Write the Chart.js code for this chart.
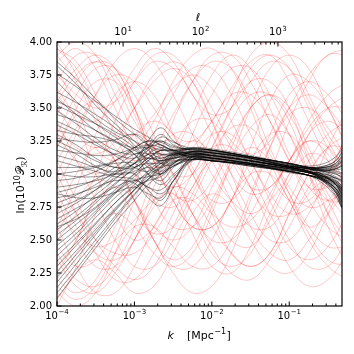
<!DOCTYPE html>
<html>
<head>
<meta charset="utf-8">
<script src="https://cdn.jsdelivr.net/npm/chart.js@4.4.1/dist/chart.umd.min.js"></script>
<style>
    html, body { margin: 0; padding: 0; background: #fff; }
</style>
</head>
<body>
<canvas id="chart" width="354" height="354"></canvas>
<script>
const kBlack = [1e-4, 1.78e-4, 3.16e-4, 5.62e-4, 1e-3, 1.5e-3, 2.2e-3, 3.2e-3, 5.62e-3, 1e-2, 3.16e-2, 0.1, 0.178, 0.282, 0.398, 0.48];
const kRed = [1e-4, 1.78e-4, 3.16e-4, 5.62e-4, 1e-3, 1.78e-3, 3.16e-3, 5.62e-3, 1e-2, 1.78e-2, 3.16e-2, 5.62e-2, 0.1, 0.178, 0.316, 0.562];

// ln(10^10 P_R) for the black (posterior) curves
const blackCurves = [
    [3.85, 3.72, 3.57, 3.42, 3.30, 3.22, 3.18, 3.18, 3.19, 3.18, 3.13, 3.08, 3.05, 3.06, 3.10, 3.16],
    [3.82, 3.68, 3.52, 3.38, 3.25, 3.15, 3.10, 3.14, 3.15, 3.14, 3.10, 3.05, 3.02, 2.96, 2.87, 2.79],
    [3.76, 3.66, 3.55, 3.44, 3.34, 3.28, 3.22, 3.18, 3.17, 3.16, 3.12, 3.06, 3.04, 3.01, 2.96, 2.90],
    [3.70, 3.55, 3.42, 3.32, 3.25, 3.18, 3.12, 3.16, 3.20, 3.19, 3.14, 3.08, 3.06, 3.08, 3.13, 3.19],
    [3.62, 3.54, 3.45, 3.35, 3.22, 3.10, 3.05, 3.10, 3.11, 3.10, 3.07, 3.02, 2.99, 2.92, 2.83, 2.74],
    [3.57, 3.45, 3.33, 3.25, 3.20, 3.22, 3.20, 3.15, 3.14, 3.12, 3.08, 3.04, 3.01, 2.98, 2.93, 2.87],
    [3.52, 3.45, 3.38, 3.30, 3.20, 3.08, 3.00, 3.08, 3.15, 3.14, 3.10, 3.05, 3.03, 3.03, 3.04, 3.06],
    [3.48, 3.38, 3.27, 3.18, 3.15, 3.20, 3.25, 3.18, 3.12, 3.11, 3.06, 3.02, 2.99, 2.95, 2.89, 2.82],
    [3.45, 3.40, 3.33, 3.25, 3.15, 3.05, 3.00, 3.08, 3.17, 3.16, 3.11, 3.06, 3.04, 3.05, 3.07, 3.11],
    [3.40, 3.33, 3.24, 3.14, 3.05, 3.02, 3.08, 3.15, 3.16, 3.13, 3.09, 3.05, 3.02, 2.94, 2.84, 2.74],
    [3.37, 3.30, 3.22, 3.15, 3.12, 3.18, 3.28, 3.24, 3.19, 3.17, 3.13, 3.07, 3.05, 3.02, 2.98, 2.95],
    [3.33, 3.30, 3.28, 3.24, 3.15, 3.00, 2.92, 3.00, 3.11, 3.10, 3.06, 3.02, 2.99, 2.96, 2.92, 2.88],
    [3.30, 3.22, 3.12, 3.05, 3.08, 3.20, 3.30, 3.22, 3.18, 3.16, 3.12, 3.07, 3.04, 3.05, 3.08, 3.13],
    [3.27, 3.25, 3.24, 3.26, 3.30, 3.22, 3.08, 3.07, 3.13, 3.12, 3.08, 3.03, 3.01, 2.95, 2.87, 2.79],
    [3.22, 3.15, 3.06, 3.00, 3.02, 3.10, 3.18, 3.17, 3.15, 3.14, 3.09, 3.05, 3.02, 3.00, 2.97, 2.93],
    [3.18, 3.16, 3.14, 3.15, 3.20, 3.25, 3.22, 3.18, 3.19, 3.18, 3.13, 3.07, 3.05, 3.05, 3.06, 3.10],
    [3.14, 3.10, 3.05, 3.02, 3.08, 3.25, 3.35, 3.25, 3.17, 3.15, 3.11, 3.06, 3.04, 2.99, 2.92, 2.85],
    [3.10, 3.06, 3.02, 2.98, 2.96, 2.90, 2.88, 2.98, 3.10, 3.10, 3.07, 3.01, 2.99, 2.95, 2.89, 2.82],
    [3.05, 3.05, 3.06, 3.10, 3.18, 3.20, 3.15, 3.14, 3.16, 3.14, 3.10, 3.05, 3.03, 3.03, 3.02, 3.01],
    [3.00, 2.98, 2.98, 3.00, 3.00, 2.88, 2.80, 2.95, 3.13, 3.12, 3.08, 3.04, 3.01, 2.96, 2.88, 2.78],
    [2.95, 2.97, 3.02, 3.10, 3.20, 3.25, 3.24, 3.20, 3.19, 3.18, 3.13, 3.08, 3.05, 3.05, 3.08, 3.14],
    [2.90, 2.92, 2.95, 3.00, 3.08, 3.12, 3.10, 3.12, 3.14, 3.13, 3.10, 3.05, 3.02, 2.99, 2.95, 2.89],
    [2.86, 2.90, 2.96, 3.05, 3.15, 3.15, 3.08, 3.11, 3.17, 3.16, 3.12, 3.06, 3.04, 3.02, 3.00, 2.98],
    [2.82, 2.85, 2.90, 2.95, 2.93, 2.82, 2.76, 2.90, 3.11, 3.11, 3.07, 3.02, 2.99, 2.94, 2.86, 2.75],
    [2.78, 2.84, 2.92, 3.02, 3.12, 3.20, 3.22, 3.17, 3.13, 3.12, 3.08, 3.04, 3.01, 3.02, 3.04, 3.07],
    [2.74, 2.80, 2.88, 2.97, 3.05, 3.08, 3.08, 3.12, 3.15, 3.15, 3.10, 3.05, 3.02, 2.98, 2.92, 2.84],
    [2.70, 2.78, 2.88, 3.00, 3.12, 3.22, 3.25, 3.21, 3.18, 3.18, 3.13, 3.08, 3.05, 3.03, 3.01, 3.00],
    [2.66, 2.74, 2.82, 2.90, 2.95, 2.90, 2.85, 2.95, 3.11, 3.10, 3.06, 3.02, 2.99, 2.95, 2.89, 2.80],
    [2.62, 2.72, 2.84, 2.96, 3.08, 3.15, 3.15, 3.15, 3.17, 3.16, 3.12, 3.06, 3.04, 3.03, 3.04, 3.06],
    [2.58, 2.68, 2.80, 2.93, 3.04, 3.12, 3.18, 3.16, 3.13, 3.12, 3.08, 3.04, 3.01, 2.98, 2.93, 2.87],
    [2.54, 2.65, 2.78, 2.92, 3.05, 3.15, 3.20, 3.18, 3.15, 3.14, 3.10, 3.05, 3.02, 3.00, 2.97, 2.94],
    [2.50, 2.62, 2.74, 2.86, 2.95, 2.98, 3.00, 3.06, 3.11, 3.10, 3.07, 3.02, 2.99, 2.94, 2.86, 2.75],
    [2.46, 2.58, 2.72, 2.86, 3.00, 3.10, 3.14, 3.16, 3.19, 3.18, 3.13, 3.08, 3.05, 3.06, 3.10, 3.17],
    [2.42, 2.55, 2.70, 2.85, 2.98, 3.06, 3.10, 3.12, 3.13, 3.12, 3.08, 3.03, 3.01, 2.98, 2.94, 2.88],
    [2.38, 2.52, 2.67, 2.82, 2.94, 3.00, 3.05, 3.12, 3.15, 3.14, 3.10, 3.05, 3.02, 2.98, 2.92, 2.85],
    [2.34, 2.48, 2.63, 2.78, 2.90, 2.95, 2.98, 3.06, 3.12, 3.10, 3.07, 3.02, 2.99, 2.97, 2.95, 2.91],
    [2.30, 2.46, 2.62, 2.78, 2.92, 3.02, 3.10, 3.15, 3.17, 3.17, 3.12, 3.06, 3.04, 3.03, 3.03, 3.04],
    [2.26, 2.42, 2.58, 2.74, 2.88, 2.96, 3.02, 3.09, 3.13, 3.12, 3.08, 3.04, 3.01, 2.95, 2.86, 2.77],
    [2.22, 2.39, 2.56, 2.73, 2.88, 2.98, 3.06, 3.14, 3.19, 3.18, 3.13, 3.08, 3.05, 3.04, 3.05, 3.09],
    [2.18, 2.36, 2.54, 2.72, 2.88, 3.00, 3.08, 3.13, 3.16, 3.14, 3.10, 3.05, 3.02, 2.98, 2.92, 2.86],
    [2.14, 2.32, 2.50, 2.68, 2.85, 2.96, 3.04, 3.09, 3.11, 3.10, 3.07, 3.02, 2.99, 2.96, 2.90, 2.83],
    [2.10, 2.28, 2.47, 2.66, 2.84, 2.96, 3.05, 3.13, 3.17, 3.16, 3.12, 3.06, 3.04, 3.02, 3.00, 2.97],
    [2.06, 2.25, 2.44, 2.63, 2.80, 2.92, 3.00, 3.08, 3.13, 3.12, 3.08, 3.04, 3.01, 2.97, 2.93, 2.89],
    [3.00, 3.02, 3.05, 3.08, 3.08, 3.00, 2.95, 3.05, 3.14, 3.14, 3.10, 3.05, 3.02, 2.97, 2.91, 2.84],
    [2.60, 2.66, 2.75, 2.88, 3.00, 3.05, 3.02, 3.06, 3.11, 3.10, 3.07, 3.02, 2.99, 2.98, 2.97, 2.95],
    [3.25, 3.18, 3.10, 3.05, 3.05, 3.12, 3.18, 3.18, 3.20, 3.18, 3.13, 3.08, 3.05, 3.04, 3.06, 3.10],
    [2.85, 2.82, 2.82, 2.86, 2.90, 2.85, 2.82, 2.95, 3.13, 3.12, 3.08, 3.03, 3.01, 2.96, 2.89, 2.81],
    [3.55, 3.48, 3.38, 3.28, 3.18, 3.12, 3.12, 3.15, 3.16, 3.16, 3.12, 3.06, 3.04, 2.99, 2.94, 2.89]
];

// ln(10^10 P_R) for the red (prior) curves
const redCurves = [
    [3.90, 3.70, 3.40, 3.10, 2.80, 2.60, 2.50, 2.60, 2.90, 3.20, 3.50, 3.60, 3.50, 3.20, 2.90, 2.70],
    [3.60, 3.80, 3.90, 3.80, 3.50, 3.10, 2.80, 2.60, 2.60, 2.80, 3.10, 3.30, 3.30, 3.10, 2.80, 2.50],
    [2.20, 2.10, 2.20, 2.50, 2.90, 3.30, 3.60, 3.80, 3.80, 3.60, 3.30, 3.00, 2.80, 2.80, 3.00, 3.30],
    [3.20, 3.50, 3.70, 3.70, 3.50, 3.20, 3.00, 3.00, 3.20, 3.50, 3.80, 3.90, 3.80, 3.50, 3.20, 3.00],
    [2.60, 2.30, 2.10, 2.10, 2.30, 2.60, 2.80, 2.80, 2.60, 2.40, 2.30, 2.40, 2.70, 3.00, 3.20, 3.30],
    [3.95, 3.85, 3.60, 3.30, 3.00, 2.80, 2.75, 2.90, 3.20, 3.50, 3.70, 3.70, 3.50, 3.10, 2.70, 2.40],
    [2.00, 2.30, 2.70, 3.00, 3.20, 3.20, 3.00, 2.70, 2.40, 2.30, 2.40, 2.70, 3.00, 3.30, 3.40, 3.30],
    [3.40, 3.10, 2.80, 2.50, 2.30, 2.30, 2.50, 2.80, 3.10, 3.40, 3.60, 3.60, 3.40, 3.00, 2.60, 2.30],
    [3.00, 3.30, 3.60, 3.85, 3.95, 3.85, 3.60, 3.30, 3.00, 2.80, 2.70, 2.80, 3.00, 3.30, 3.50, 3.60],
    [2.40, 2.20, 2.15, 2.30, 2.60, 3.00, 3.40, 3.70, 3.90, 3.90, 3.70, 3.40, 3.10, 2.90, 2.90, 3.00],
    [3.70, 3.90, 3.90, 3.70, 3.40, 3.20, 3.10, 3.20, 3.40, 3.60, 3.60, 3.40, 3.10, 2.80, 2.60, 2.50],
    [2.90, 2.70, 2.50, 2.40, 2.40, 2.55, 2.80, 3.10, 3.30, 3.30, 3.10, 2.80, 2.50, 2.30, 2.30, 2.50],
    [3.50, 3.30, 3.20, 3.30, 3.50, 3.70, 3.80, 3.70, 3.40, 3.00, 2.70, 2.50, 2.50, 2.70, 3.00, 3.30],
    [2.30, 2.50, 2.80, 2.90, 2.80, 2.50, 2.25, 2.10, 2.15, 2.40, 2.80, 3.20, 3.50, 3.60, 3.50, 3.30],
    [3.80, 3.50, 3.20, 3.10, 3.20, 3.40, 3.70, 3.90, 3.95, 3.80, 3.50, 3.10, 2.80, 2.60, 2.70, 2.90],
    [2.70, 3.00, 3.20, 3.10, 2.80, 2.50, 2.30, 2.30, 2.50, 2.80, 3.00, 3.00, 2.80, 2.50, 2.30, 2.20],
    [3.30, 3.60, 3.80, 3.80, 3.60, 3.30, 3.00, 2.70, 2.50, 2.50, 2.70, 3.00, 3.40, 3.70, 3.90, 3.90],
    [2.10, 2.00, 2.10, 2.40, 2.80, 3.10, 3.30, 3.30, 3.10, 2.80, 2.60, 2.60, 2.80, 3.10, 3.30, 3.40],
    [3.60, 3.40, 3.00, 2.70, 2.50, 2.60, 2.90, 3.30, 3.60, 3.80, 3.80, 3.60, 3.30, 3.00, 2.80, 2.80],
    [2.50, 2.70, 3.00, 3.40, 3.70, 3.90, 3.90, 3.70, 3.40, 3.10, 2.90, 2.90, 3.10, 3.40, 3.60, 3.70],
    [3.10, 2.80, 2.50, 2.30, 2.20, 2.30, 2.60, 2.90, 3.10, 3.10, 2.90, 2.60, 2.30, 2.15, 2.20, 2.40],
    [3.90, 4.00, 3.90, 3.60, 3.30, 3.00, 2.90, 3.00, 3.30, 3.60, 3.90, 4.00, 3.90, 3.60, 3.30, 3.10],
    [2.80, 2.50, 2.30, 2.30, 2.50, 2.90, 3.20, 3.40, 3.40, 3.20, 2.90, 2.70, 2.70, 2.90, 3.20, 3.50],
    [3.30, 3.10, 3.00, 3.10, 3.30, 3.40, 3.30, 3.00, 2.70, 2.40, 2.30, 2.40, 2.70, 3.00, 3.20, 3.20],
    [2.20, 2.40, 2.60, 2.70, 2.60, 2.40, 2.30, 2.40, 2.70, 3.10, 3.50, 3.80, 3.90, 3.80, 3.50, 3.20],
    [3.75, 3.60, 3.50, 3.55, 3.70, 3.85, 3.80, 3.60, 3.30, 3.00, 2.85, 2.90, 3.10, 3.35, 3.50, 3.50],
    [2.60, 2.90, 3.30, 3.60, 3.70, 3.60, 3.30, 3.00, 2.80, 2.80, 3.00, 3.30, 3.60, 3.70, 3.60, 3.40],
    [3.00, 2.70, 2.40, 2.20, 2.20, 2.40, 2.70, 3.00, 3.20, 3.20, 3.00, 2.70, 2.45, 2.35, 2.45, 2.70],
    [3.45, 3.70, 3.85, 3.80, 3.50, 3.10, 2.80, 2.60, 2.60, 2.80, 3.20, 3.55, 3.75, 3.70, 3.50, 3.20],
    [2.35, 2.15, 2.10, 2.25, 2.50, 2.75, 2.90, 2.85, 2.70, 2.60, 2.65, 2.85, 3.10, 3.25, 3.20, 3.00],
    [3.20, 3.45, 3.55, 3.40, 3.10, 2.80, 2.60, 2.60, 2.80, 3.10, 3.35, 3.45, 3.30, 3.00, 2.70, 2.50],
    [4.00, 3.75, 3.45, 3.20, 3.10, 3.20, 3.45, 3.70, 3.85, 3.80, 3.55, 3.20, 2.90, 2.75, 2.80, 3.00],
    [2.05, 2.25, 2.35, 2.25, 2.10, 2.15, 2.40, 2.70, 2.85, 2.75, 2.50, 2.30, 2.25, 2.40, 2.70, 3.00],
    [3.65, 3.45, 3.40, 3.55, 3.80, 3.95, 3.85, 3.60, 3.45, 3.50, 3.70, 3.85, 3.80, 3.55, 3.25, 3.00],
    [2.90, 3.15, 3.25, 3.10, 2.80, 2.50, 2.35, 2.45, 2.75, 3.05, 3.20, 3.10, 2.85, 2.60, 2.45, 2.45],
    [2.45, 2.30, 2.35, 2.60, 2.95, 3.20, 3.25, 3.05, 2.75, 2.50, 2.45, 2.65, 2.95, 3.15, 3.10, 2.90],
    [3.85, 3.95, 3.80, 3.50, 3.20, 3.05, 3.15, 3.45, 3.75, 3.90, 3.80, 3.50, 3.15, 2.90, 2.80, 2.90],
    [2.25, 2.50, 2.85, 3.15, 3.30, 3.20, 2.90, 2.55, 2.30, 2.25, 2.45, 2.80, 3.10, 3.25, 3.15, 2.90],
    [3.35, 3.20, 3.15, 3.25, 3.50, 3.75, 3.85, 3.75, 3.50, 3.25, 3.15, 3.25, 3.50, 3.75, 3.90, 3.95],
    [2.70, 2.55, 2.45, 2.50, 2.65, 2.80, 2.85, 2.70, 2.45, 2.25, 2.20, 2.35, 2.60, 2.85, 2.95, 2.90],
    [3.55, 3.75, 3.85, 3.75, 3.45, 3.10, 2.85, 2.80, 2.95, 3.25, 3.50, 3.60, 3.45, 3.15, 2.85, 2.65],
    [2.15, 2.05, 2.15, 2.40, 2.60, 2.60, 2.45, 2.30, 2.30, 2.50, 2.85, 3.20, 3.45, 3.50, 3.35, 3.10],
    [3.10, 3.35, 3.60, 3.75, 3.70, 3.50, 3.30, 3.25, 3.40, 3.65, 3.85, 3.90, 3.70, 3.40, 3.10, 2.90],
    [2.55, 2.80, 2.95, 2.90, 2.70, 2.55, 2.60, 2.85, 3.15, 3.35, 3.35, 3.15, 2.85, 2.55, 2.35, 2.30],
    [3.95, 3.80, 3.55, 3.35, 3.30, 3.45, 3.65, 3.75, 3.65, 3.40, 3.10, 2.85, 2.70, 2.75, 2.95, 3.20],
    [2.85, 2.60, 2.40, 2.35, 2.50, 2.80, 3.10, 3.25, 3.15, 2.90, 2.60, 2.40, 2.35, 2.50, 2.75, 2.95]
];

// axes
const kMin = 1e-4, kMax = 0.48;
const ellMin = 1.4, ellMax = 6720;
const xMajor = [1e-4, 1e-3, 1e-2, 1e-1];
const xExponents = ['−4', '−3', '−2', '−1'];
const ellMajor = [10, 100, 1000];
const ellExponents = ['1', '2', '3'];
const yTicks = [2.00, 2.25, 2.50, 2.75, 3.00, 3.25, 3.50, 3.75, 4.00];

function minorTicks(lo, hi) {
    const out = [];
    for (let d = Math.pow(10, Math.floor(Math.log10(lo))); d < hi; d *= 10) {
        for (let m = 2; m <= 9; m++) {
            const v = m * d;
            if (v > lo && v < hi) out.push(v);
        }
    }
    return out;
}

const toPoints = (ks, vals) => vals.map((v, i) => ({ x: ks[i], y: v }));

const datasets = [];
redCurves.forEach(c => datasets.push({
    data: toPoints(kRed, c),
    borderColor: 'rgba(255, 0, 0, 0.28)',
    borderWidth: 0.8,
    order: 1
}));
blackCurves.forEach(c => datasets.push({
    data: toPoints(kBlack, c),
    borderColor: 'rgba(0, 0, 0, 0.6)',
    borderWidth: 0.7,
    order: 0
}));

const FONT = 'DejaVu Sans';

// "10" with a raised exponent, centred on x
function powerLabel(ctx, x, baseline, exp) {
    ctx.font = `10px "${FONT}"`;
    const wb = ctx.measureText('10').width;
    ctx.font = `7px "${FONT}"`;
    const we = ctx.measureText(exp).width;
    let left = x - (wb + we + 0.5) / 2;
    ctx.font = `10px "${FONT}"`;
    ctx.fillText('10', left, baseline);
    ctx.font = `7px "${FONT}"`;
    ctx.fillText(exp, left + wb + 0.5, baseline - 4.5);
}

// frame, inward ticks, log tick labels and axis titles
const framePlugin = {
    id: 'frame',
    afterDraw(chart) {
        const ctx = chart.ctx;
        const a = chart.chartArea;
        const sx = chart.scales.x, sl = chart.scales.ell, sy = chart.scales.y;
        ctx.save();
        ctx.strokeStyle = '#000';
        ctx.lineWidth = 1;
        ctx.beginPath();
        const tick = (x1, y1, x2, y2) => { ctx.moveTo(x1, y1); ctx.lineTo(x2, y2); };
        xMajor.forEach(v => { const p = sx.getPixelForValue(v); tick(p, a.bottom, p, a.bottom - 4.5); });
        minorTicks(kMin, kMax).forEach(v => { const p = sx.getPixelForValue(v); tick(p, a.bottom, p, a.bottom - 2.5); });
        ellMajor.forEach(v => { const p = sl.getPixelForValue(v); tick(p, a.top, p, a.top + 4.5); });
        minorTicks(ellMin, ellMax).forEach(v => { const p = sl.getPixelForValue(v); tick(p, a.top, p, a.top + 2.5); });
        yTicks.forEach(v => { const p = sy.getPixelForValue(v); tick(a.left, p, a.left + 4.5, p); });
        ctx.stroke();

        ctx.lineWidth = 1.2;
        ctx.strokeRect(a.left, a.top, a.right - a.left, a.bottom - a.top);

        ctx.fillStyle = '#000';
        ctx.textBaseline = 'alphabetic';
        ctx.textAlign = 'left';
        xMajor.forEach((v, i) => powerLabel(ctx, sx.getPixelForValue(v), 318.5, xExponents[i]));
        ellMajor.forEach((v, i) => powerLabel(ctx, sl.getPixelForValue(v), 35, ellExponents[i]));

        // bottom title
        ctx.font = `italic 11px "${FONT}"`;
        ctx.fillText('k', 167.5, 338.5);
        ctx.font = `11px "${FONT}"`;
        let x = 187;
        ctx.fillText('[Mpc', x, 338.5);
        x += ctx.measureText('[Mpc').width + 0.5;
        ctx.font = `8px "${FONT}"`;
        ctx.fillText('−1', x, 333.5);
        x += ctx.measureText('−1').width + 0.5;
        ctx.font = `11px "${FONT}"`;
        ctx.fillText(']', x, 338.5);

        // top title
        ctx.font = `italic 11px "${FONT}"`;
        ctx.textAlign = 'center';
        ctx.fillText('ℓ', 198, 21);

        // left title, rotated
        ctx.translate(24, 185);
        ctx.rotate(-Math.PI / 2);
        const parts = [
            { t: 'ln(10', f: `11px "${FONT}"`, dy: 0 },
            { t: '10', f: `8px "${FONT}"`, dy: -4.5 },
            { t: '𝒫', f: `11px "${FONT}"`, dy: 0 },
            { t: 'ℛ', f: `8px "${FONT}"`, dy: 2.5 },
            { t: ')', f: `11px "${FONT}"`, dy: 0 }
        ];
        let total = 0;
        parts.forEach(p => { ctx.font = p.f; p.w = ctx.measureText(p.t).width; total += p.w; });
        ctx.textAlign = 'left';
        let px = -total / 2;
        parts.forEach(p => { ctx.font = p.f; ctx.fillText(p.t, px, p.dy); px += p.w; });
        ctx.restore();
    }
};

Chart.defaults.font.family = FONT;
Chart.defaults.font.size = 10;
Chart.defaults.color = '#000';

new Chart(document.getElementById('chart').getContext('2d'), {
    type: 'line',
    data: { datasets },
    options: {
        responsive: false,
        animation: false,
        events: [],
        layout: { padding: { right: 12 } },
        elements: {
            point: { radius: 0 },
            line: { tension: 0.4, fill: false }
        },
        scales: {
            x: {
                type: 'logarithmic',
                position: 'bottom',
                min: kMin,
                max: kMax,
                grid: { display: false, drawTicks: false },
                border: { display: false },
                afterFit: s => { s.height = 48; },
                ticks: { display: false }
            },
            ell: {
                type: 'logarithmic',
                axis: 'x',
                position: 'top',
                min: ellMin,
                max: ellMax,
                grid: { display: false, drawTicks: false },
                border: { display: false },
                afterFit: s => { s.height = 42; },
                ticks: { display: false }
            },
            y: {
                min: 2,
                max: 4,
                grid: { display: false, drawTicks: false },
                border: { display: false },
                afterBuildTicks: s => { s.ticks = yTicks.map(v => ({ value: v })); },
                afterFit: s => { s.width = 57; },
                ticks: {
                    padding: 5,
                    callback: v => v.toFixed(2)
                }
            }
        },
        plugins: {
            legend: { display: false },
            tooltip: { enabled: false }
        }
    },
    plugins: [framePlugin]
});
</script>
</body>
</html>
